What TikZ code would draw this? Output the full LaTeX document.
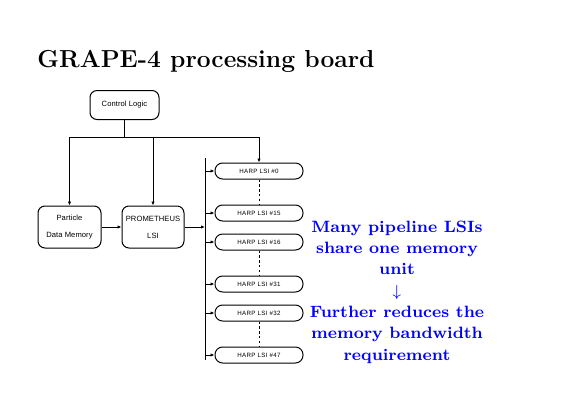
\documentclass[tikz,border=0pt]{standalone}
\usepackage{fontspec}
\newfontfamily\boxfont[LetterSpace=1]{Liberation Sans}
\newfontfamily\harpfont[LetterSpace=5]{Liberation Sans}
\usetikzlibrary{arrows.meta}
\begin{document}
\begin{tikzpicture}[x=0.5pt,y=-0.5pt,
  line width=0.5pt,
  blk/.style={draw,rounded corners=3.5pt,align=center,inner sep=0pt,
    font=\boxfont\fontsize{3.8}{8.5}\selectfont},
  harp/.style={draw,rounded corners=3.8pt,inner sep=0pt,minimum width=44pt,minimum height=8pt,
    font=\harpfont\fontsize{3.1}{4}\selectfont},
  arr/.style={-{Latex[length=2pt,width=1.7pt]}},
  dotln/.style={dash pattern=on 1.2pt off 1.2pt}]
\useasboundingbox (0,0) rectangle (585,414);
\node[anchor=base west,inner sep=0pt,font=\fontsize{12.3}{14}\selectfont\bfseries] (title) at (37,67) {GRAPE-4 processing board};
\node[blk,minimum width=34.5pt,minimum height=14.5pt] (ctl) at (124.5,105) {Control Logic};
\node[blk,minimum width=31.5pt,minimum height=21pt] (pdm) at (69.5,227) {Particle\\Data Memory};
\node[blk,minimum width=31pt,minimum height=21pt] (prom) at (153,227) {PROMETHEUS\\LSI};
\node[harp] (h0) at (259,171) {HARP LSI \#0};
\node[harp] (h15) at (259,213) {HARP LSI \#15};
\node[harp] (h16) at (259,242) {HARP LSI \#16};
\node[harp] (h31) at (259,284) {HARP LSI \#31};
\node[harp] (h32) at (259,313) {HARP LSI \#32};
\node[harp] (h47) at (259,355) {HARP LSI \#47};
\coordinate (jc) at (124.5,137);
\coordinate (jl) at (69.5,137);
\coordinate (jr) at (259,137);
\coordinate (bt) at (205,158);
\coordinate (bb) at (205,360);
\draw (ctl.south) -- (jc);
\draw (jl) -- (jr);
\draw[arr] (jl) -- (pdm.north);
\draw[arr] (prom.north |- jc) -- (prom.north);
\draw[arr] (jr) -- (h0.north);
\draw[arr] (pdm.east) -- (prom.west);
\draw[arr] (prom.east) -- (prom.east -| bt);
\draw (bt) -- (bb);
\foreach \h in {h0,h15,h16,h31,h32,h47}{
  \draw[arr] (\h.west -| bt) -- (\h.west);
}
\draw[dotln] (h0.south) -- (h15.north);
\draw[dotln] (h16.south) -- (h31.north);
\draw[dotln] (h32.south) -- (h47.north);
\node[text=blue,align=center,font=\fontsize{8.2}{10.65}\selectfont\bfseries] (note) at (397,292)
  {Many pipeline LSIs\\share one memory\\unit\\$\downarrow$\\Further reduces the\\memory bandwidth\\requirement};
\end{tikzpicture}
\end{document}
